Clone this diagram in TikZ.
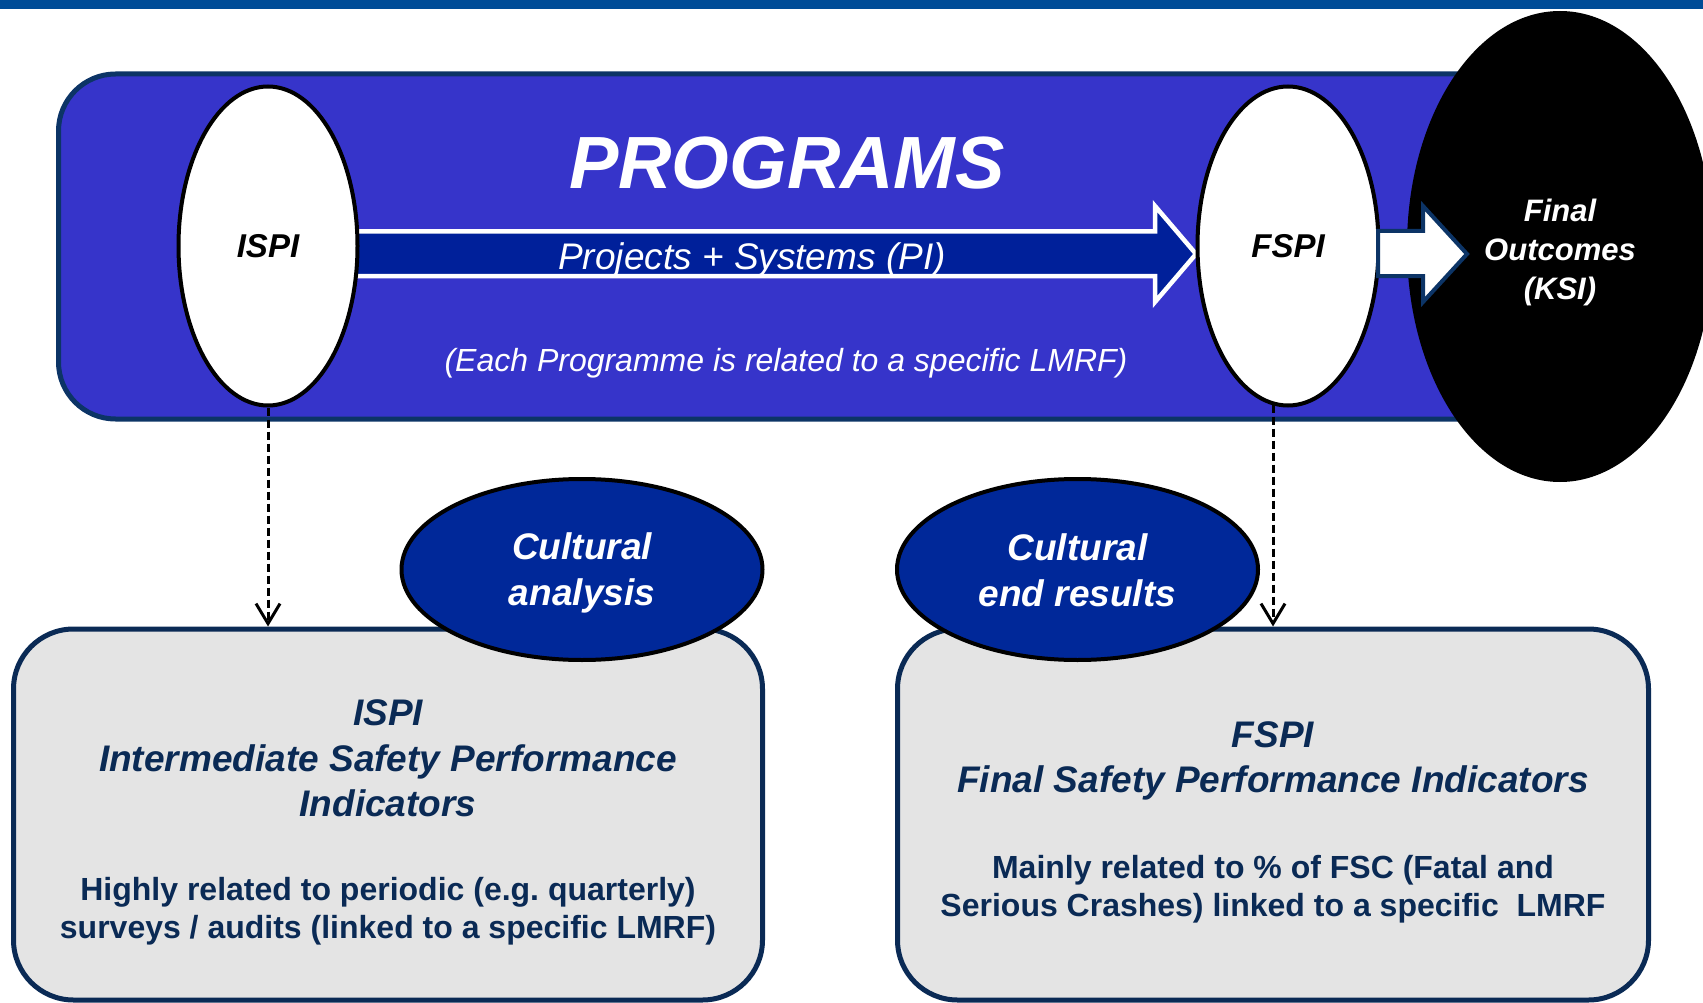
\documentclass[tikz,border=0pt]{standalone}
\usepackage{fontspec}
\setmainfont{Liberation Sans}
\usetikzlibrary{shapes.geometric, arrows.meta, positioning}

\definecolor{barblue}{RGB}{0,76,151}
\definecolor{panelblue}{RGB}{54,52,202}
\definecolor{panelline}{RGB}{12,52,102}
\definecolor{arrowblue}{RGB}{0,32,154}
\definecolor{cultureblue}{RGB}{0,40,153}
\definecolor{boxgray}{RGB}{228,228,228}
\definecolor{boxnavy}{RGB}{10,42,85}

\begin{document}
\begin{tikzpicture}[x=1pt,y=-1pt,
 every node/.style={inner sep=0pt},
 panel node/.style={rectangle,rounded corners=57pt,draw=panelline,line width=5pt,fill=panelblue},
 pi node/.style={ellipse,draw=black,line width=4pt,fill=white,minimum width=179pt,minimum height=319pt,
  font=\fontsize{33}{40}\selectfont\bfseries\itshape},
 ksi node/.style={ellipse,fill=black,minimum width=306pt,minimum height=471pt},
 ksi text/.style={text=white,align=center,yshift=-5.5pt,font=\fontsize{31}{39}\selectfont\bfseries\itshape},
 culture node/.style={ellipse,draw=black,line width=4pt,fill=cultureblue,minimum width=361pt,minimum height=181pt},
 culture text/.style={text=white,align=center,yshift=-3.5pt,font=\fontsize{37}{46}\selectfont\bfseries\itshape},
 info box/.style={rectangle,rounded corners=60pt,draw=boxnavy,line width=5pt,fill=boxgray,minimum height=371pt},
 box head/.style={text=boxnavy,align=center,font=\fontsize{37}{45.5}\selectfont\bfseries\itshape},
 box body/.style={text=boxnavy,align=center,font=\fontsize{32}{38}\selectfont\bfseries},
 pi arrow/.style={draw=white,line width=4.5pt,fill=arrowblue},
 out arrow/.style={draw=panelline,line width=4pt,fill=white},
 link/.style={draw=black,line width=3pt,dash pattern=on 8pt off 4pt,-{Straight Barb[length=20pt,width=24pt]}}]
  \useasboundingbox (0,0) rectangle (1703,1003);
  \fill[barblue] (0,0) rectangle (1703,9);

  % programs panel
  \node[panel node,minimum width=1501pt,minimum height=345pt] (panel) at (809,246.5) {};
  \draw[pi arrow] (330,231.5) -- (1155,231.5) -- (1155,206) -- (1196,254) -- (1155,302)
   -- (1155,276) -- (330,276) -- cycle;
  \node[pi node] (ispi) at (268,246) {ISPI};
  \node[pi node,minimum width=181pt] (fspi) at (1288,246) {FSPI};
  \node[ksi node,label={[ksi text]center:{Final\\Outcomes\\(KSI)}}] (ksi) at (1560,246.5) {};
  \draw[out arrow] (1378,231) -- (1423,231) -- (1423,206) -- (1467,254) -- (1423,302)
   -- (1423,276) -- (1378,276) -- cycle;

  \node[text=white,font=\fontsize{74}{80}\selectfont\bfseries\itshape] (programs) at (787,163) {PROGRAMS};
  \node[text=white,font=\fontsize{37}{44}\selectfont\itshape] (pi) at (752,260) {Projects + Systems (PI)};
  \node[text=white,font=\fontsize{32}{38}\selectfont\itshape] (lmrf) at (786,363)
   {(Each Programme is related to a specific LMRF)};

  % indicator boxes
  \node[info box,minimum width=749pt] (lbox) at (388,814.5) {};
  \node[info box,minimum width=751pt] (rbox) at (1273,814.5) {};
  \node[box head] (lhead) at (388,758.5) {ISPI\\Intermediate Safety Performance\\Indicators};
  \node[box body] (lbody) at (388,911) {Highly related to periodic (e.g.\ quarterly)\\surveys / audits (linked to a specific LMRF)};
  \node[box head] (rhead) at (1273,761) {FSPI\\Final Safety Performance Indicators};
  \node[box body] (rbody) at (1273,889) {Mainly related to \% of FSC (Fatal and\\Serious Crashes) linked to a specific~~LMRF};

  \node[culture node,label={[culture text]center:{Cultural\\analysis}}] (analysis) at (582,569.5) {};
  \node[culture node,label={[culture text,yshift=2.5pt]center:{Cultural\\end results}}] (results) at (1077.5,569.5) {};

  \draw[link] (ispi.south) -- (ispi.south |- lbox.north);
  \draw[link] ([xshift=-15pt]fspi.south) ++(0,-3) -- ([xshift=-15pt]fspi.south |- rbox.north);
\end{tikzpicture}
\end{document}
